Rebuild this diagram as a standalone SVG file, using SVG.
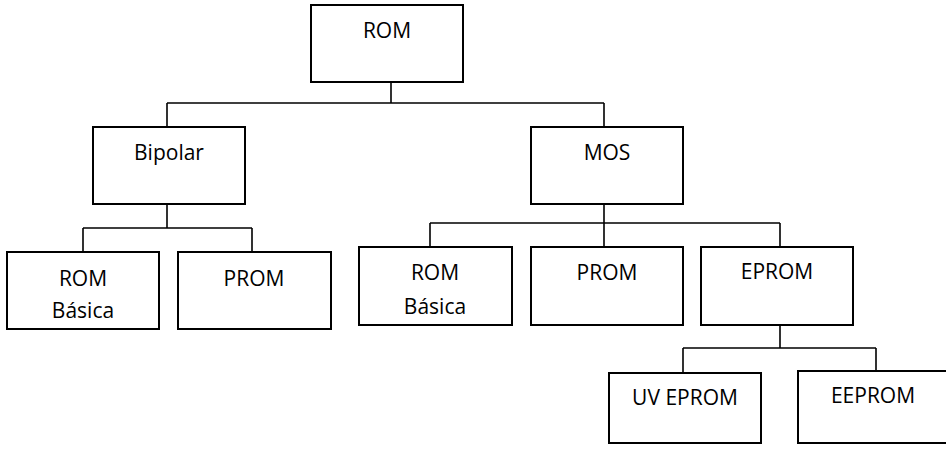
<svg xmlns="http://www.w3.org/2000/svg" width="946" height="451" viewBox="0 0 946 451">
<style>
.box{fill:#fff;stroke:#000;stroke-width:2}
.ln{fill:none;stroke:#000;stroke-width:1.6}
text{font-family:"Open Sans","Liberation Sans",sans-serif;font-size:21px;fill:#000;text-anchor:middle}
</style>
<rect width="946" height="451" fill="#fff"/>
<g id="connectors">
<path class="ln" d="M391 82V103M167 103H604M167 103V127M604 103V127"/>
<path class="ln" d="M167 204V228M83 228H252M83 228V252M252 228V252"/>
<path class="ln" d="M604 204V247M430 223H780M430 223V247M780 223V247"/>
<path class="ln" d="M780 325V348M683 348H876M683 348V373M876 348V371"/>
</g>
<g id="rom"><rect class="box" x="311" y="5" width="152" height="77"/><text x="387" y="38">ROM</text></g>
<g id="bipolar"><rect class="box" x="93" y="127" width="152" height="77"/><text x="169" y="160">Bipolar</text></g>
<g id="mos"><rect class="box" x="531" y="127" width="152" height="77"/><text x="607" y="160">MOS</text></g>
<g id="bip-rom"><rect class="box" x="7" y="252" width="152" height="77"/><text x="83" y="286">ROM</text><text x="83" y="318">Básica</text></g>
<g id="bip-prom"><rect class="box" x="178" y="252" width="153" height="77"/><text x="254" y="286">PROM</text></g>
<g id="mos-rom"><rect class="box" x="359" y="247" width="153" height="78"/><text x="435" y="280">ROM</text><text x="435" y="314">Básica</text></g>
<g id="mos-prom"><rect class="box" x="531" y="247" width="152" height="78"/><text x="607" y="280">PROM</text></g>
<g id="eprom"><rect class="box" x="701" y="247" width="152" height="78"/><text x="777" y="279">EPROM</text></g>
<g id="uv-eprom"><rect class="box" x="609" y="373" width="152" height="70"/><text x="685" y="405">UV EPROM</text></g>
<g id="eeprom"><rect class="box" x="798" y="371" width="152" height="72"/><text x="873" y="403">EEPROM</text></g>
</svg>
